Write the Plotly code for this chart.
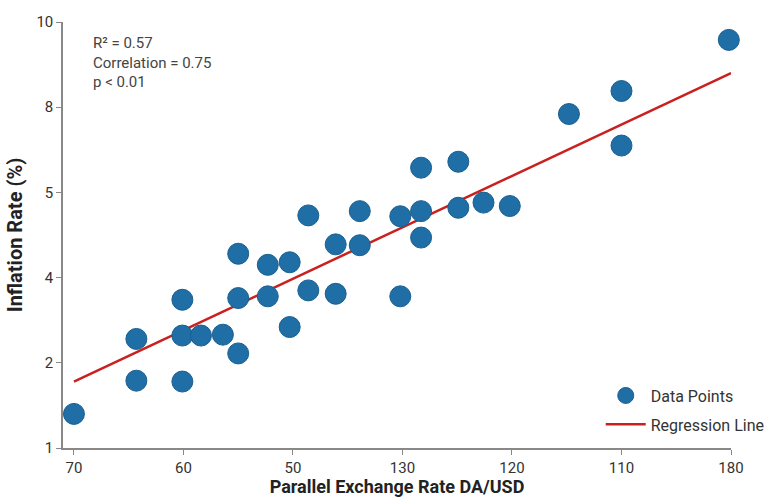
import plotly.graph_objects as go

# Category tick labels (as drawn on the reference)
x_tick_labels = ["70", "60", "50", "130", "120", "110", "180"]
y_tick_labels = ["1", "2", "4", "5", "8", "10"]

# Data points in tick-index units
x_vals = [0.00, 0.57, 0.57, 0.99, 0.99, 0.99, 1.16, 1.36, 1.50, 1.50, 1.50,
          1.77, 1.77, 1.97, 1.97, 2.14, 2.14, 2.39, 2.39, 2.61, 2.61, 2.98,
          2.98, 3.17, 3.17, 3.17, 3.51, 3.51, 3.74, 3.98, 4.52, 5.00, 5.00, 5.98]
y_vals = [0.40, 1.28, 0.79, 1.74, 1.32, 0.78, 1.32, 1.33, 2.28, 1.76, 1.11,
          2.15, 1.78, 2.18, 1.42, 2.73, 1.85, 2.39, 1.81, 2.78, 2.38, 2.72,
          1.78, 3.29, 2.78, 2.47, 3.36, 2.82, 2.88, 2.84, 3.92, 4.19, 3.55, 4.79]

# Regression line endpoints
reg_x = [0.0, 6.0]
reg_y = [0.78, 4.40]

stats_lines = ["R² = 0.57", "Correlation = 0.75", "p < 0.01"]

fig = go.Figure()
fig.add_trace(go.Scatter(
    x=reg_x, y=reg_y, mode="lines", name="Regression Line",
    line=dict(color="#c8211f", width=2.5), showlegend=False, cliponaxis=False))
fig.add_trace(go.Scatter(
    x=x_vals, y=y_vals, mode="markers", name="Data Points", legendgroup="a",
    marker=dict(size=21, color="#1f6ea6", line=dict(color="#1a5f90", width=1)),
    cliponaxis=False))
fig.add_trace(go.Scatter(
    x=[None], y=[None], mode="lines", name="Regression Line", legendgroup="b",
    line=dict(color="#c8211f", width=2.5)))

fig.add_annotation(
    x=0, y=1.0, xref="paper", yref="paper", xanchor="left", yanchor="top",
    xshift=28, yshift=-10,
    text="<br>".join(stats_lines), showarrow=False, align="left",
    font=dict(family="Roboto", size=15, color="#444444"))

axis_common = dict(
    showgrid=False, zeroline=False, showline=True, linecolor="#888888",
    linewidth=1.5, ticks="outside", ticklen=5, tickcolor="#888888",
    automargin=False,
    tickfont=dict(family="Roboto", size=15, color="#333333"))

fig.update_xaxes(
    range=[-0.1, 6.0], tickmode="array", tickvals=list(range(len(x_tick_labels))),
    ticktext=x_tick_labels,
    title=dict(text="<b>Parallel Exchange Rate DA/USD</b>",
               font=dict(family="Roboto", size=18, color="#222222"), standoff=4),
    **axis_common)
fig.update_yaxes(
    range=[0, 5.0], tickmode="array", tickvals=list(range(len(y_tick_labels))),
    ticktext=y_tick_labels,
    title=dict(text="<b>Inflation Rate (%)</b>",
               font=dict(family="Roboto", size=20, color="#222222"), standoff=8),
    **axis_common)

fig.update_layout(
    width=764, height=497,
    margin=dict(l=63, r=33, t=22, b=49, autoexpand=False),
    plot_bgcolor="white", paper_bgcolor="white",
    font=dict(family="Roboto"),
    legend=dict(x=0.805, y=0.163, xanchor="left", yanchor="top",
                bgcolor="rgba(0,0,0,0)", font=dict(family="Roboto", size=16, color="#333333"),
                itemwidth=40, tracegroupgap=5),
)

fig.write_html(
    "out.html",
    config={"responsive": False, "displayModeBar": False},
    post_script="document.body.style.margin='0';document.body.style.overflow='hidden';",
)
